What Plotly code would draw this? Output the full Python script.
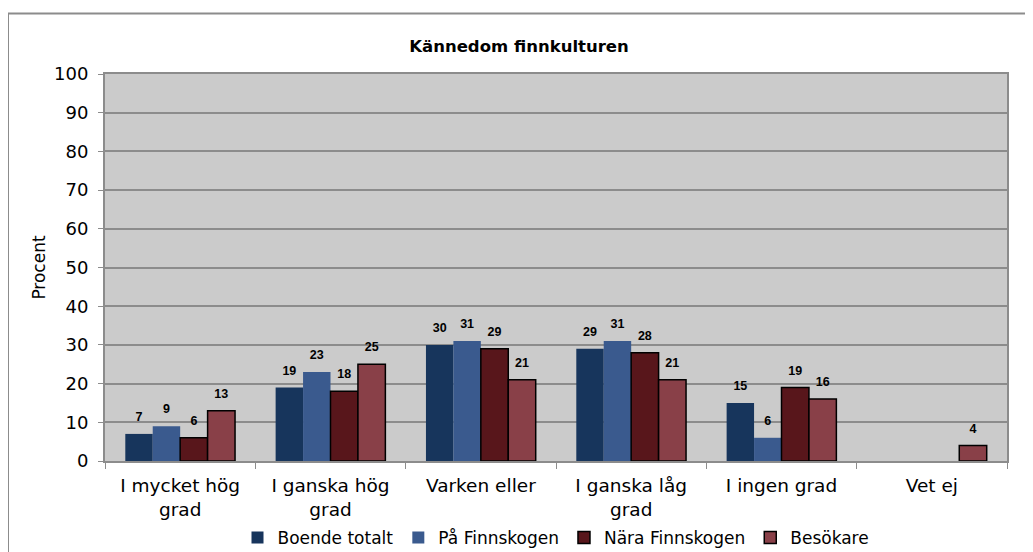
import plotly.graph_objects as go

categories = ["I mycket hög<br>grad", "I ganska hög<br>grad", "Varken eller",
              "I ganska låg<br>grad", "I ingen grad", "Vet ej"]
series_names = ["Boende totalt", "På Finnskogen", "Nära Finnskogen", "Besökare"]
boende_totalt = [7, 19, 30, 29, 15, None]
pa_finnskogen = [9, 23, 31, 31, 6, None]
nara_finnskogen = [6, 18, 29, 28, 19, None]
besokare = [13, 25, 21, 21, 16, 4]
y_ticks = list(range(0, 101, 10))

series_values = [boende_totalt, pa_finnskogen, nara_finnskogen, besokare]
colors = ["#17355C", "#3A5A8E", "#58161B", "#894048"]
outlines = [0, 0, 1.5, 1.5]

FONT = "DejaVu Sans"
GAP = 0.27
W, H = 1025, 544
L, T, R, B = 97, 66, 26, 91
PW, PH = W - L - R, H - T - B

fig = go.Figure()
for i, (name, vals, col, lw) in enumerate(zip(series_names, series_values, colors, outlines)):
    fig.add_trace(go.Bar(
        name=name, x=categories, y=vals, offsetgroup=str(i), alignmentgroup="a",
        marker=dict(color=col, line=dict(color="black", width=lw)),
    ))
for i, vals in enumerate(series_values):
    fig.add_trace(go.Scatter(
        x=categories, y=vals, mode="markers+text", showlegend=False,
        offsetgroup=str(i), alignmentgroup="a", hoverinfo="skip",
        marker=dict(size=14, color="rgba(0,0,0,0)"),
        text=[("" if v is None else str(v)) for v in vals],
        textposition="top center", cliponaxis=False,
        textfont=dict(family="Arial", size=12.5, color="black", weight="bold"),
    ))

fig.update_layout(
    width=W, height=H,
    margin=dict(l=L, r=R, t=T, b=B, autoexpand=False),
    paper_bgcolor="white", plot_bgcolor="#CBCBCB",
    barmode="group", bargap=GAP, bargroupgap=0,
    scattermode="group", scattergap=GAP,
    font=dict(family=FONT, size=16, color="black"),
    title=dict(text="<b>Kännedom finnkulturen</b>", x=511 / W, xanchor="center",
               y=1 - 38 / H, yanchor="middle", automargin=False,
               font=dict(family=FONT, size=16.5, color="black")),
    showlegend=True,
    legend=dict(orientation="h", x=0.5, xanchor="center", y=(PH - (530 - T)) / PH,
                yanchor="middle", font=dict(family=FONT, size=17), itemwidth=30,
                tracegroupgap=0, bgcolor="rgba(0,0,0,0)"),
)
fig.update_xaxes(showline=True, linecolor="#8C8C8C", linewidth=2, mirror=True,
                 ticks="outside", tickson="boundaries", ticklen=6, tickcolor="#8C8C8C",
                 tickwidth=1, tickfont=dict(size=18.5), showgrid=False,
                 ticklabelstandoff=7, automargin=False)
fig.update_yaxes(range=[0, 100], tickvals=y_ticks, showline=True, linecolor="#8C8C8C",
                 linewidth=2, mirror=True, ticks="outside", ticklen=5, tickcolor="#8C8C8C",
                 gridcolor="#8C8C8C", gridwidth=2, zeroline=False,
                 tickfont=dict(size=18), ticklabelstandoff=6, automargin=False,
                 title=dict(text="Procent", font=dict(size=17), standoff=4))

fig.add_shape(type="rect", xref="paper", yref="paper",
              x0=-L / PW, x1=(W + 10 - L) / PW,
              y0=(PH - (H + 10 - T)) / PH, y1=(PH - (5.5 - T)) / PH,
              line=dict(color="#8C8C8C", width=2), fillcolor="rgba(0,0,0,0)", layer="below")

fig.write_html("out.html")
